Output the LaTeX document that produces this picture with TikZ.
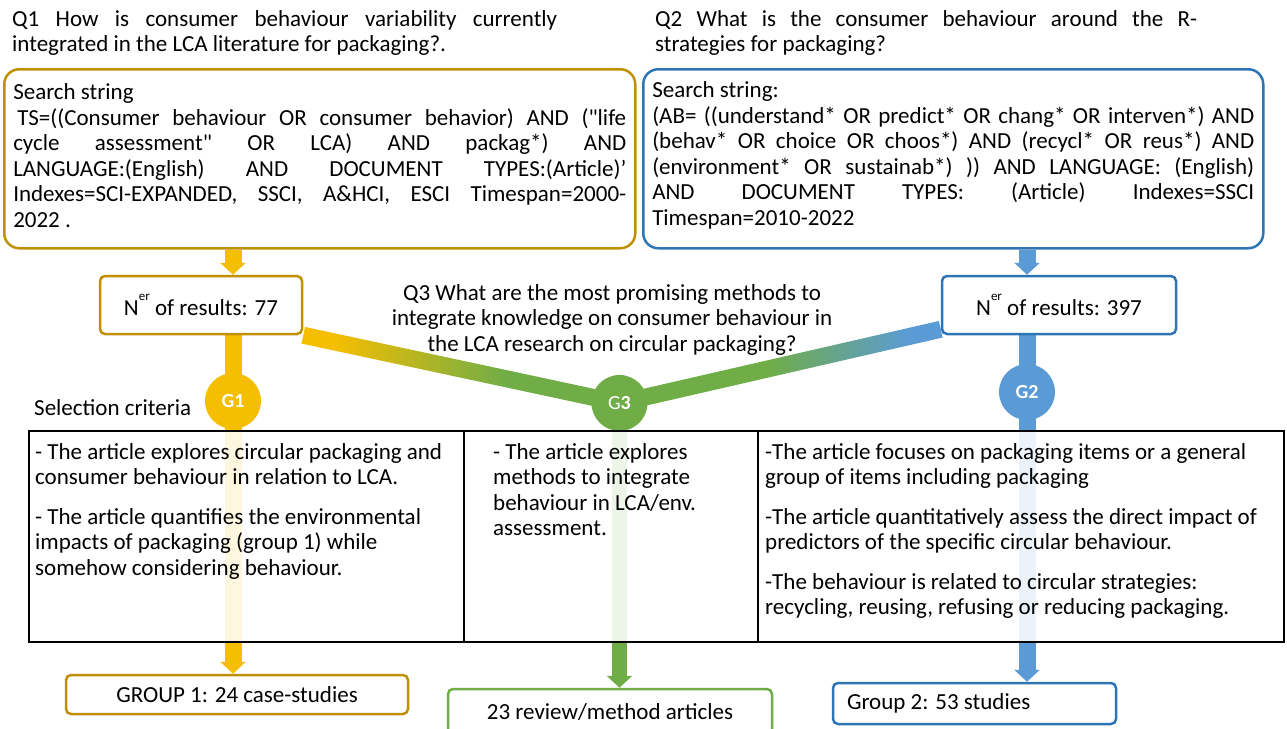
\documentclass[tikz,border=0pt]{standalone}
\usepackage{fontspec}
\setmainfont{Carlito}
\usetikzlibrary{arrows.meta,calc,backgrounds}

\definecolor{gold}{RGB}{246,190,0}
\definecolor{golddark}{RGB}{191,144,0}
\definecolor{ggreen}{RGB}{112,173,71}
\definecolor{gblue}{RGB}{91,155,213}
\definecolor{bluedark}{RGB}{46,117,182}

\pgfdeclarehorizontalshading{goldtogreen}{100bp}{color(0bp)=(gold); color(30bp)=(gold); color(57bp)=(ggreen); color(100bp)=(ggreen)}
\pgfdeclarehorizontalshading{greentoblue}{100bp}{color(0bp)=(ggreen); color(48bp)=(ggreen); color(70bp)=(gblue); color(100bp)=(gblue)}

% one justified line of a search string
\newcommand{\jl}[1]{\makebox[\hsize][s]{#1}\\}

\tikzset{
    every node/.append style={execute at begin node={\spaceskip=0pt\xspaceskip=0pt}},
    searchbox/.style={draw, rounded corners=15pt, line width=2.5pt, fill=white, inner xsep=9pt, inner ysep=0pt, anchor=north west, align=left},
    resbox/.style={draw, rounded corners=5pt, line width=2.5pt, fill=white, minimum height=58pt},
    outbox/.style={draw, rounded corners=5pt, line width=2.5pt, fill=white},
    gcirc/.style={circle, minimum size=56pt, inner sep=0pt, text=white, font=\fontsize{20}{20}\selectfont\bfseries},
    cell/.style={draw=black, line width=2pt, fill=white, fill opacity=0.88, inner sep=0pt, anchor=north west},
    celltext/.style={anchor=north west, align=left, inner sep=0pt},
    shaft/.style={line width=17pt, -{Triangle[length=12pt,width=25pt]}},
}

\begin{document}
\begin{tikzpicture}[x=1pt, y=-1pt, font=\fontsize{23}{25.5}\selectfont]
    \useasboundingbox (0,0) rectangle (1287,728);

    % questions
    \node[celltext, text width=545pt] (q1) at (12,10)
        {\jl{Q1 How is consumer behaviour variability currently}integrated in the LCA literature for packaging?.};
    \node[celltext, text width=542pt] (q2) at (655,10)
        {\jl{Q2 What is the consumer behaviour around the R-}strategies for packaging?};
    \node[anchor=north, align=center, inner sep=0pt] (q3) at (612,284)
        {Q3 What are the most promising methods to\\ integrate knowledge on consumer behaviour in\\ the LCA research on circular packaging?};

    % search strings
    \node[searchbox, draw=golddark, text width=613pt, minimum height=179pt] (search1) at (3,68)
        {Search string\\
         \jl{\hspace*{4pt}TS=((Consumer behaviour OR consumer behavior) AND (\textquotedbl life}
         \jl{cycle assessment\textquotedbl{} OR LCA) AND packag*) AND}
         \jl{LANGUAGE:(English) AND DOCUMENT TYPES:(Article)’}
         \jl{Indexes=SCI-EXPANDED, SSCI, A\&HCI, ESCI Timespan=2000-}
         2022 .\rule[-6pt]{0pt}{1pt}};
    \node[searchbox, draw=bluedark, text width=602pt, minimum height=179pt] (search2) at (642,68)
        {Search string:\\
         \jl{(AB= ((understand* OR predict* OR chang* OR interven*) AND}
         \jl{(behav* OR choice OR choos*) AND (recycl* OR reus*) AND}
         \jl{(environment* OR sustainab*) )) AND LANGUAGE: (English)}
         \jl{AND DOCUMENT TYPES: (Article) Indexes=SSCI}
         Timespan=2010-2022\rule[-10.5pt]{0pt}{1pt}};

    % number of results
    \node[resbox, draw=golddark, minimum width=202pt] (n1) at (201,305)
        {N\raisebox{15pt}{\fontsize{13}{13}\selectfont er} of results: 77};
    \node[resbox, draw=bluedark, minimum width=234pt] (n2) at (1059,305)
        {N\raisebox{15pt}{\fontsize{13}{13}\selectfont er} of results: 397};

    % groups
    \node[gcirc, fill=gold] (g1) at (233,401) {G1};
    \node[gcirc, fill=ggreen] (g3) at (619.5,403) {{\mdseries G}3};
    \node[gcirc, fill=gblue] (g2) at (1027,392) {G2};

    \node[anchor=west, inner sep=0pt] (crit) at (34,408) {Selection criteria};

    % criteria table
    \node[cell, minimum width=435pt, minimum height=211pt] (col1) at (28,430) {};
    \node[cell, minimum width=294pt, minimum height=211pt] (col2) at (463,430) {};
    \node[cell, minimum width=526pt, minimum height=211pt] (col3) at (757,430) {};

    \node[celltext, text width=428pt] at ([xshift=7pt,yshift=-13pt]col1.north west)
        {- The article explores circular packaging and\\
         consumer behaviour in relation to LCA.\\[14pt]
         - The article quantifies the environmental\\
         impacts of packaging (group 1) while\\
         somehow considering behaviour.};
    \node[celltext, text width=270pt] at ([xshift=30pt,yshift=-13pt]col2.north west)
        {- The article explores\\ methods to integrate\\ behaviour in LCA/env.\\ assessment.};
    \node[celltext, text width=515pt] at ([xshift=8pt,yshift=-13pt]col3.north west)
        {-The article focuses on packaging items or a general\\
         group of items including packaging\\[14pt]
         -The article quantitatively assess the direct impact of\\
         predictors of the specific circular behaviour.\\[14pt]
         -The behaviour is related to circular strategies:\\
         recycling, reusing, refusing or reducing packaging.};

    % outcomes
    \node[outbox, draw=golddark, minimum width=342pt, minimum height=39pt] (grp1) at (237,694.5) {GROUP 1: 24 case-studies};
    \node[outbox, draw=ggreen, minimum width=324pt, minimum height=46pt] (grp3) at (610,712) {23 review/method articles};
    \node[outbox, draw=bluedark, minimum height=41pt, text width=255pt, inner xsep=14pt, align=left] (grp2) at (974.5,703.5) {Group 2: 53 studies};

    \begin{scope}[on background layer]
        \shade[shading=goldtogreen] ($(n1.south east)!8.5pt!90:(g3)$) -- ($(g3)!8.5pt!-90:(n1.south east)$)
            -- ($(g3)!8.5pt!90:(n1.south east)$) -- ($(n1.south east)!8.5pt!-90:(g3)$) -- cycle;
        \coordinate (b2) at ([yshift=6pt]n2.south west);
        \shade[shading=greentoblue] ($(b2)!8.5pt!90:(g3)$) -- ($(g3)!8.5pt!-90:(b2)$)
            -- ($(g3)!8.5pt!90:(b2)$) -- ($(b2)!8.5pt!-90:(g3)$) -- cycle;

        \draw[shaft, gold] (search1.south -| g1) -- (n1.north -| g1);
        \draw[shaft, gblue] (search2.south -| g2) -- (n2.north -| g2);
        \draw[shaft, gold] (n1.south -| g1) -- (grp1.north -| g1);
        \draw[shaft, ggreen, line width=15pt] (g3) -- (grp3.north -| g3);
        \draw[shaft, gblue] (n2.south -| g2) -- (grp2.north -| g2);
    \end{scope}
\end{tikzpicture}
\end{document}
